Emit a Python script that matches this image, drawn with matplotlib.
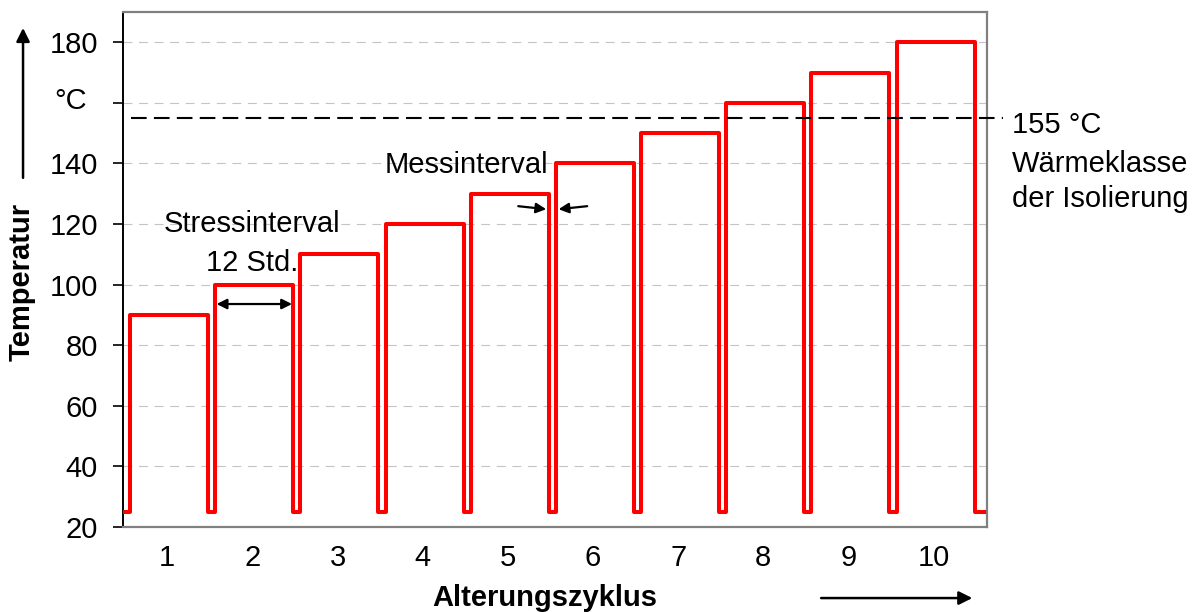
import numpy as np
import matplotlib.pyplot as plt
from matplotlib.transforms import blended_transform_factory

plt.rcParams['font.family'] = ['Liberation Sans', 'DejaVu Sans']

# aging cycles and their stress temperatures
cycles = [1, 2, 3, 4, 5, 6, 7, 8, 9, 10]
stress_temp = [90, 100, 110, 120, 130, 140, 150, 160, 170, 180]
base_temp = 25          # temperature during the measurement intervals
stress_h = 12           # stress interval, hours
measure_h = 1.1         # measurement interval, hours
lead_h = 1.1            # low phase before the first cycle
tail_h = 1.5            # low phase after the last cycle
insulation_class = 155  # thermal class of the insulation, degC

# build the step profile from the intervals
period = stress_h + measure_h
t = [0.0]
temp = [base_temp]
rise = []
for i, T in enumerate(stress_temp):
    r = lead_h + i * period
    rise.append(r)
    t += [r, r, r + stress_h, r + stress_h]
    temp += [base_temp, T, T, base_temp]
t.append(t[-1] + tail_h)
temp.append(base_temp)
rise = np.array(rise)
fall = rise + stress_h
mid = rise + stress_h / 2

fig = plt.figure(figsize=(12, 6.12), dpi=100)
ax = fig.add_axes([0.1025, 0.1389, 0.72, 0.8415])

ax.plot(t, temp, color='#ff0000', lw=2.9, zorder=3)

# insulation class line, running past the right edge
ax.plot([1.2, 135.4], [insulation_class, insulation_class], color='black',
        lw=1.5, dashes=(7.5, 3.5), clip_on=False, zorder=4)

ax.set_xlim(0, 132.9)
ax.set_ylim(20, 190)

ax.set_xticks(mid - 0.3)
ax.set_xticklabels([str(c) for c in cycles], fontsize=21)
ax.tick_params(axis='x', length=0, pad=12)

yt = np.arange(20, 181, 20)
ax.set_yticks(yt)
ax.set_yticklabels(['' if v == 160 else str(v) for v in yt], fontsize=21)
ax.tick_params(axis='y', length=7, width=1.2, pad=11, color='black')

ax.yaxis.grid(True, color='#c4c4c4', lw=0.8, dashes=(8, 6))
ax.set_axisbelow(True)

for side in ['top', 'right', 'bottom']:
    ax.spines[side].set_color('#808080')
    ax.spines[side].set_linewidth(1.6)
ax.spines['left'].set_color('black')
ax.spines['left'].set_linewidth(1.4)

# unit in place of the 160 label
ytr = blended_transform_factory(ax.transAxes, ax.transData)
ax.text(-0.0417, 158, '°C', transform=ytr, ha='right', va='baseline',
        fontsize=21)

# axis labels with arrows
ax.text(-0.117, 0.476, 'Temperatur', transform=ax.transAxes, rotation=90,
        ha='center', va='center', fontsize=21, fontweight='bold')
ax.annotate('', xy=(-0.1157, 0.969), xytext=(-0.1157, 0.678),
            xycoords='axes fraction', annotation_clip=False,
            arrowprops=dict(arrowstyle='-|>', color='black', lw=1.8,
                            mutation_scale=20, shrinkA=0, shrinkB=0))
ax.text(0.488, -0.138, 'Alterungszyklus', transform=ax.transAxes,
        ha='center', va='center', fontsize=21, fontweight='bold')
ax.annotate('', xy=(0.983, -0.138), xytext=(0.808, -0.138),
            xycoords='axes fraction', annotation_clip=False,
            arrowprops=dict(arrowstyle='-|>', color='black', lw=1.8,
                            mutation_scale=20, shrinkA=0, shrinkB=0))

# stress interval
ax.text(mid[1] - 0.3, 117.3, 'Stressinterval', ha='center', va='baseline', fontsize=21)
ax.text(mid[1] - 0.3, 104.5, '12 Std.', ha='center', va='baseline', fontsize=21)
ax.annotate('', xy=(fall[1] - 0.2, 93.6), xytext=(rise[1] + 0.2, 93.6),
            arrowprops=dict(arrowstyle='<|-|>', color='black', lw=1.6,
                            mutation_scale=15, shrinkA=0, shrinkB=0))

# measurement interval
ax.text(52.8, 136.8, 'Messinterval', ha='center', va='baseline', fontsize=21)
ax.annotate('', xy=(fall[4] - 0.4, 124.9), xytext=(fall[4] - 4.7, 125.9),
            arrowprops=dict(arrowstyle='-|>', color='black', lw=1.6,
                            mutation_scale=15, shrinkA=0, shrinkB=0))
ax.annotate('', xy=(rise[5] + 0.4, 124.9), xytext=(rise[5] + 4.8, 125.9),
            arrowprops=dict(arrowstyle='-|>', color='black', lw=1.6,
                            mutation_scale=15, shrinkA=0, shrinkB=0))

# insulation class note
ax.text(1.029, 150.0, '155 °C', transform=ytr, ha='left', va='baseline', fontsize=21)
ax.text(1.029, 137.2, 'Wärmeklasse', transform=ytr, ha='left', va='baseline', fontsize=21)
ax.text(1.029, 125.6, 'der Isolierung', transform=ytr, ha='left', va='baseline', fontsize=21)

fig.savefig('out.png', dpi=100)
